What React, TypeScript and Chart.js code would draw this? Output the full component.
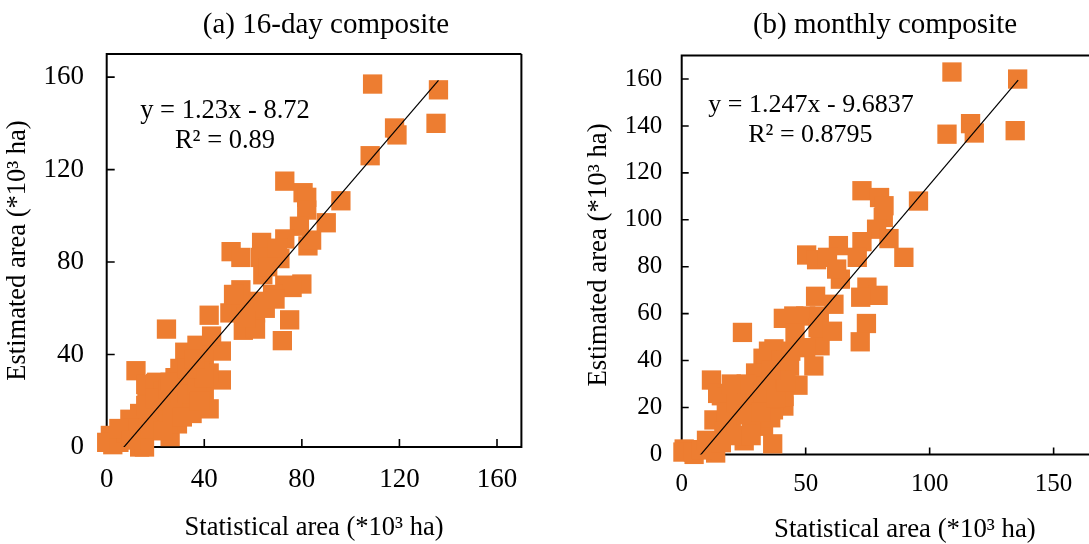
import React, { useEffect, useRef } from "react";
import { Chart, registerables } from "chart.js";

Chart.register(...registerables);

const ORANGE = "#ED7D31";
const SERIF = "'Liberation Serif', 'Times New Roman', serif";

// ---------- Panel (a): 16-day composite ----------
const titleA = "(a) 16-day composite";
const statisticalA = [
  109, 136, 118, 119, 135, 108, 96,
  73, 80.5, 82, 82, 79, 90, 82.5, 84, 73, 63.5, 51, 55, 63, 71, 64, 73, 80, 76, 55, 68,
  42, 50.5, 55, 61, 56, 61, 75, 72, 41, 47, 40,
  24.5, 32, 37, 12, 30, 47, 20.5, 16.5, 42, 42, 34, 9.5, 13.5, 35, 1.5, 2.5, 13.5, 26, 20.5, 29,
  16, 20, 23, 31, 15.5, 0, 5, 8, 12, 18, 22, 25, 27, 29, 32, 35, 38, 35, 25, 28, 22, 40,
  52, 66, 70, 57, 65, 69, 62, 43,
  5, 17, 23, 16, 20, 25, 30, 33, 37, 40, 27, 31, 38, 10, 26, 33, 36,
];
const estimatedA = [
  157, 154.5, 138, 135, 140, 126, 106.5,
  115, 110, 108, 102.5, 95.5, 97, 87, 89.5, 90, 88.5, 84.5, 82, 82, 81.5, 74.5, 70, 70.5, 69, 68, 66,
  57, 58, 62, 58, 50.5, 51, 55, 46, 43.5, 41.5, 38,
  51, 41, 44, 33, 34, 29, 28, 24.5, 32, 16.5, 17.5, 12, 14.5, 14.5, 5, 1, 0, 4.5, 7.5, 10,
  27, 27.5, 24, 18, 0, 2, 2, 6, 8, 12, 15, 18, 22, 26, 28, 30, 33, 23, 10, 30, 20, 24,
  66, 78, 86, 56, 60, 64, 63, 48,
  8, 8, 7, 18, 21, 25, 21, 23, 27, 30, 15, 13, 20, 3, 28, 34, 38,
];
const trendA = [1.23, -8.72]; // slope, intercept
const trendRangeA = [0, 136];
const r2A = "0.89";
const xTicksA = [0, 40, 80, 120, 160];
const yTicksA = [0, 40, 80, 120, 160];

// ---------- Panel (b): monthly composite ----------
const titleB = "(b) monthly composite";
const statisticalB = [
  109, 135.5, 116.5, 118, 107, 134.5, 95.5,
  72.7, 79.8, 81.6, 81.3, 78.6, 83.6, 89.6, 72.7, 63.2, 50.4, 54.4, 58.8, 70.8, 64, 62.5, 74.7, 79.2, 72.2, 54, 61.4,
  45.2, 50, 55.5, 55.8, 55, 60.8, 74.5, 72, 41, 45.7, 50, 53.3, 43.5, 46.9, 41.2,
  24.5, 32.8, 35, 37.2, 34.2, 29.8, 30.5,
  12, 16, 24, 14.5, 18.5, 27, 37, 33, 41.3, 35.9, 13, 17, 25.2, 36.7, 23, 30,
  1, 7, 13.7, 5, 0.5, 4.7, 8, 20, 28, 22, 30, 38, 26, 20, 33,
  10, 16, 18, 22, 26, 28, 32, 34, 38, 40, 42, 36, 44,
];
const estimatedB = [
  163, 160, 141, 137, 136.5, 138, 108,
  112.4, 109.5, 106, 101, 96, 92, 84, 90.7, 89, 85, 83, 84, 84, 74.7, 79, 71.3, 67.8, 67, 67.4, 64,
  59, 59, 59, 46.3, 54, 52.5, 55.8, 48, 58, 51.7, 45.5, 37.7, 37.6, 29.5, 20.6,
  52, 41, 44, 45, 40.4, 34.7, 33,
  31.7, 25, 28, 26, 24.5, 23, 19, 12, 24.7, 15.6, 14.7, 10, 5.8, 4.5, 18, 22,
  2.3, 2, 0.6, 0, 1, 1, 2, 15, 12, 8, 28, 32, 30, 30, 26,
  6, 5, 18, 22, 17, 8, 18, 29, 24, 40, 31, 36, 44,
];
const trendB = [1.247, -9.6837];
const trendRangeB = [0, 135.7];
const r2B = "0.8795";
const xTicksB = [0, 50, 100, 150];
const yTicksB = [0, 20, 40, 60, 80, 100, 120, 140, 160];

const axisXLabel = "Statistical area (*10\u00B3 ha)";
const axisYLabel = "Estimated area (*10\u00B3 ha)";

type TextItem = { text: string; x: number; y: number; size: number };

type PanelLayout = {
  width: number;
  height: number;
  padding: { top: number; right: number; bottom: number; left: number };
  yAxisW: number;
  xAxisH: number;
  xMax: number;
  yMax: number;
  tickSize: number;
  xTickPad: number;
  yTickPad: number;
  titleSize: number;
  xTitlePad: number;
  yTitlePad: number;
  tickLen: number;
  drawRight: boolean;
  pointRadius: number;
  texts: TextItem[];
};

function equationText(trend: number[]): string {
  const [m, b] = trend;
  return `y = ${m}x ${b < 0 ? "-" : "+"} ${Math.abs(b)}`;
}

function makeChart(
  canvas: HTMLCanvasElement,
  xs: number[],
  ys: number[],
  trend: number[],
  trendRange: number[],
  xTicks: number[],
  yTicks: number[],
  L: PanelLayout
) {
  const points = xs.map((x, i) => ({ x, y: ys[i] }));
  const [m, b] = trend;
  const trendPts = trendRange.map((x) => ({ x, y: m * x + b }));

  const framePlugin = {
    id: "frame",
    beforeDatasetsDraw(chart: any) {
      const { ctx, chartArea } = chart;
      const { left, right, top, bottom } = chartArea;
      ctx.save();
      ctx.strokeStyle = "#000";
      ctx.lineWidth = 2;
      ctx.beginPath();
      ctx.moveTo(right, top);
      ctx.lineTo(left, top);
      ctx.lineTo(left, bottom);
      ctx.lineTo(right, bottom);
      if (L.drawRight) {
        ctx.lineTo(right, top);
      }
      ctx.stroke();
      const xs = chart.scales.x;
      const ysc = chart.scales.y;
      ctx.lineWidth = 1.6;
      ctx.beginPath();
      xs.ticks.forEach((t: any) => {
        const px = xs.getPixelForValue(t.value);
        ctx.moveTo(px, bottom);
        ctx.lineTo(px, bottom - L.tickLen);
      });
      ysc.ticks.forEach((t: any) => {
        const py = ysc.getPixelForValue(t.value);
        ctx.moveTo(left, py);
        ctx.lineTo(left + L.tickLen, py);
      });
      ctx.stroke();
      ctx.restore();
    },
  };

  const textPlugin = {
    id: "panelText",
    afterDraw(chart: any) {
      const ctx = chart.ctx;
      ctx.save();
      ctx.fillStyle = "#000";
      ctx.textAlign = "center";
      ctx.textBaseline = "middle";
      L.texts.forEach((it) => {
        ctx.font = `${it.size}px ${SERIF}`;
        ctx.fillText(it.text, it.x, it.y);
      });
      ctx.restore();
    },
  };

  const tickFont = { family: SERIF, size: L.tickSize, lineHeight: 1.2 };
  const titleFont = { family: SERIF, size: L.titleSize, lineHeight: 1 };

  return new Chart(canvas, {
    type: "scatter",
    data: {
      datasets: [
        {
          data: trendPts,
          showLine: true,
          borderColor: "#000",
          borderWidth: 1.2,
          pointRadius: 0,
          order: 0,
        } as any,
        {
          data: points,
          pointStyle: "rect",
          pointRadius: L.pointRadius,
          backgroundColor: ORANGE,
          borderColor: ORANGE,
          borderWidth: 0,
          clip: false,
          order: 1,
        } as any,
      ],
    },
    options: {
      animation: false,
      responsive: false,
      events: [],
      layout: { padding: L.padding },
      plugins: {
        legend: { display: false },
        tooltip: { enabled: false },
        title: { display: false },
      },
      scales: {
        x: {
          type: "linear",
          min: 0,
          max: L.xMax,
          afterBuildTicks: (s: any) => {
            s.ticks = xTicks.map((v) => ({ value: v }));
          },
          ticks: {
            color: "#000",
            font: tickFont,
            padding: L.xTickPad,
            maxRotation: 0,
            autoSkip: false,
          },
          grid: { display: false, drawTicks: false, tickLength: 0 },
          border: { display: false },
          title: {
            display: true,
            text: axisXLabel,
            color: "#000",
            font: titleFont,
            padding: { top: 0, bottom: L.xTitlePad },
          },
          afterFit: (s: any) => {
            s.height = L.xAxisH;
          },
        },
        y: {
          type: "linear",
          min: 0,
          max: L.yMax,
          afterBuildTicks: (s: any) => {
            s.ticks = yTicks.map((v) => ({ value: v }));
          },
          ticks: {
            color: "#000",
            font: tickFont,
            padding: L.yTickPad,
            autoSkip: false,
          },
          grid: { display: false, drawTicks: false, tickLength: 0 },
          border: { display: false },
          title: {
            display: true,
            text: axisYLabel,
            color: "#000",
            font: titleFont,
            padding: { top: L.yTitlePad, bottom: 0 },
          },
          afterFit: (s: any) => {
            s.width = L.yAxisW;
          },
        },
      },
    } as any,
    plugins: [framePlugin, textPlugin],
  });
}

const layoutA: PanelLayout = {
  width: 545,
  height: 544,
  padding: { top: 54, right: 23.6, bottom: 0, left: 0 },
  yAxisW: 106.7,
  xAxisH: 97,
  xMax: 170,
  yMax: 170,
  tickSize: 27,
  xTickPad: 16.5,
  yTickPad: 22.7,
  titleSize: 26.5,
  xTitlePad: 2.4,
  yTitlePad: 4.9,
  tickLen: 8,
  drawRight: true,
  pointRadius: 13.65,
  texts: [
    { text: titleA, x: 326, y: 25, size: 29 },
    { text: equationText(trendA), x: 225, y: 111, size: 26.5 },
    { text: `R\u00B2 = ${r2A}`, x: 225, y: 141, size: 26.5 },
  ],
};

const layoutB: PanelLayout = {
  width: 600,
  height: 544,
  padding: { top: 55.6, right: 17, bottom: 0, left: 0 },
  yAxisW: 136.7,
  xAxisH: 89.6,
  xMax: 180,
  yMax: 170,
  tickSize: 25,
  xTickPad: 14.6,
  yTickPad: 19.4,
  titleSize: 26.8,
  xTitlePad: 0.4,
  yTitlePad: 40.6,
  tickLen: 7,
  drawRight: false,
  pointRadius: 13.65,
  texts: [
    { text: titleB, x: 340, y: 25, size: 29 },
    { text: equationText(trendB), x: 266, y: 105, size: 26 },
    { text: `R\u00B2 = ${r2B}`, x: 265.4, y: 135.6, size: 26 },
  ],
};

function Panel(props: {
  left: number;
  xs: number[];
  ys: number[];
  trend: number[];
  trendRange: number[];
  xTicks: number[];
  yTicks: number[];
  layout: PanelLayout;
}) {
  const ref = useRef<HTMLCanvasElement | null>(null);
  useEffect(() => {
    if (!ref.current) return;
    const c = makeChart(
      ref.current,
      props.xs,
      props.ys,
      props.trend,
      props.trendRange,
      props.xTicks,
      props.yTicks,
      props.layout
    );
    return () => c.destroy();
  }, []);
  return (
    <canvas
      ref={ref}
      width={props.layout.width}
      height={props.layout.height}
      style={{
        position: "absolute",
        left: props.left,
        top: 0,
        width: props.layout.width,
        height: props.layout.height,
      }}
    />
  );
}

export default function App() {
  return (
    <div
      style={{
        position: "absolute",
        left: 0,
        top: 0,
        width: 1089,
        height: 544,
        overflow: "hidden",
        background: "#fff",
      }}
    >
      <Panel
        left={0}
        xs={statisticalA}
        ys={estimatedA}
        trend={trendA}
        trendRange={trendRangeA}
        xTicks={xTicksA}
        yTicks={yTicksA}
        layout={layoutA}
      />
      <Panel
        left={545}
        xs={statisticalB}
        ys={estimatedB}
        trend={trendB}
        trendRange={trendRangeB}
        xTicks={xTicksB}
        yTicks={yTicksB}
        layout={layoutB}
      />
    </div>
  );
}
